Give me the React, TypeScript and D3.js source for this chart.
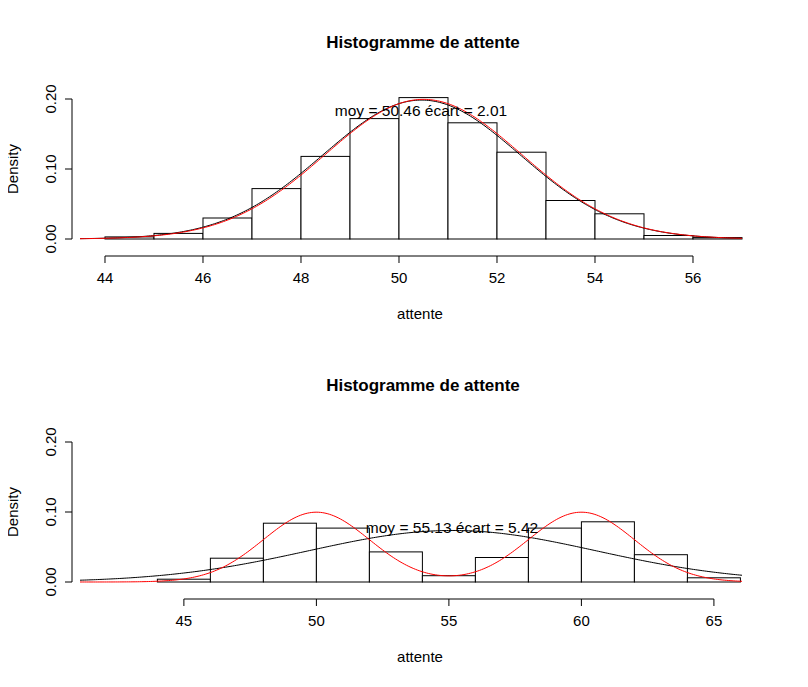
import React from 'react';
import * as d3 from 'd3';

const breaks1 = [44, 45, 46, 47, 48, 49, 50, 51, 52, 53, 54, 55, 56, 57];
const dens1 = [0.003, 0.008, 0.03, 0.072, 0.118, 0.172, 0.202, 0.166, 0.124, 0.055, 0.036, 0.005, 0.002];
const xticks1 = [44, 46, 48, 50, 52, 54, 56];

const breaks2 = [44, 46, 48, 50, 52, 54, 56, 58, 60, 62, 64, 66];
const dens2 = [0.004, 0.034, 0.084, 0.077, 0.043, 0.009, 0.035, 0.077, 0.086, 0.039, 0.006];
const xticks2 = [45, 50, 55, 60, 65];

const yticks = [0, 0.1, 0.2];

const dn = (x: number, m: number, s: number) => Math.exp(-0.5 * ((x - m) / s) ** 2) / (s * Math.sqrt(2 * Math.PI));

interface PanelProps {
  top: number; breaks: number[]; dens: number[]; xticks: number[]; xdom: [number, number];
  black: (x: number) => number; red: (x: number) => number; label: string; labelX: number; labelY: number;
}

const Panel: React.FC<PanelProps> = ({ top, breaks, dens, xticks, xdom, black, red, label, labelX, labelY }) => {
  const x = d3.scaleLinear().domain(xdom).range([80, 742]);
  const y = d3.scaleLinear().domain([0, 0.2]).range([top + 140, top]);
  const xs = d3.range(xdom[0], xdom[1] + 0.001, (xdom[1] - xdom[0]) / 300);
  const line = d3.line<number>();
  const pathOf = (f: (v: number) => number) => line(xs.map(v => [x(v), y(f(v))]));
  const y0 = y(0);
  const ax = y0 + 17;
  return (
    <g>
      <text x={423} y={top - 51} textAnchor="middle" fontWeight="bold" fontSize={17}>Histogramme de attente</text>
      {dens.map((d, i) => (
        <rect key={i} x={x(breaks[i])} y={y(d)} width={x(breaks[i + 1]) - x(breaks[i])} height={y0 - y(d)}
          fill="white" stroke="black" strokeWidth={1} />
      ))}
      <path d={pathOf(black) ?? ''} fill="none" stroke="black" strokeWidth={1} />
      <path d={pathOf(red) ?? ''} fill="none" stroke="red" strokeWidth={1} />
      <text x={labelX} y={labelY} textAnchor="middle" fontSize={15.5}>{label}</text>
      <line x1={x(xticks[0])} x2={x(xticks[xticks.length - 1])} y1={ax} y2={ax} stroke="black" />
      {xticks.map(t => (
        <g key={t}>
          <line x1={x(t)} x2={x(t)} y1={ax} y2={ax + 7} stroke="black" />
          <text x={x(t)} y={ax + 27} textAnchor="middle" fontSize={15}>{t}</text>
        </g>
      ))}
      <line x1={72} x2={72} y1={y(0)} y2={y(0.2)} stroke="black" />
      {yticks.map(t => (
        <g key={t}>
          <line x1={65} x2={72} y1={y(t)} y2={y(t)} stroke="black" />
          <text transform={`translate(56,${y(t)}) rotate(-90)`} textAnchor="middle" fontSize={15}>{t.toFixed(2)}</text>
        </g>
      ))}
      <text transform={`translate(18,${y(0.1)}) rotate(-90)`} textAnchor="middle" fontSize={15}>Density</text>
      <text x={420} y={top + 220} textAnchor="middle" fontSize={15}>attente</text>
    </g>
  );
};

export default function App() {
  return (
    <svg width={808} height={687} style={{ display: 'block', margin: -8, fontFamily: 'Liberation Sans, Arial, sans-serif' }}>
      <rect width={808} height={687} fill="white" />
      <Panel top={99} breaks={breaks1} dens={dens1} xticks={xticks1} xdom={[43.49, 57.0]}
        black={v => dn(v, 50.46, 2.01)} red={v => dn(v, 50.5, 2)}
        label="moy = 50.46 écart = 2.01" labelX={421} labelY={116} />
      <Panel top={442} breaks={breaks2} dens={dens2} xticks={xticks2} xdom={[41.08, 66.06]}
        black={v => dn(v, 55.13, 5.42)} red={v => 0.5 * dn(v, 50, 2) + 0.5 * dn(v, 60, 2)}
        label="moy = 55.13 écart = 5.42" labelX={452} labelY={533} />
    </svg>
  );
}
